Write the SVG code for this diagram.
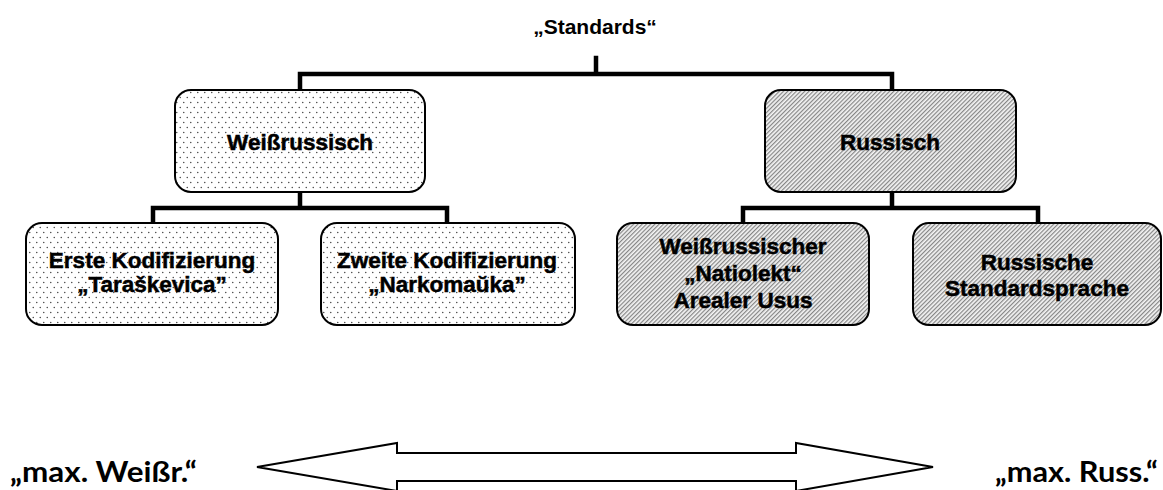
<svg xmlns="http://www.w3.org/2000/svg" width="1163" height="490" viewBox="0 0 1163 490">
<style>
.box{stroke:#000;stroke-width:2}
.dot{fill:url(#dots)}
.hat{fill:url(#hatch)}
.t{font-family:Arial,"Liberation Sans",sans-serif;font-weight:bold;font-size:22.5px;text-anchor:middle;fill:#000;stroke:#000;stroke-width:0.5}
.top{font-family:Arial,"Liberation Sans",sans-serif;font-weight:bold;font-size:21px;text-anchor:middle;fill:#000}
.big{font-family:Lato,"Open Sans",sans-serif;font-weight:bold;font-size:29px;fill:#000}
.con{fill:none;stroke:#000;stroke-width:4.5;stroke-linecap:square}
.arr{fill:#fff;stroke:#000;stroke-width:2;stroke-linejoin:miter}
</style>
<defs>
<pattern id="dots" width="7" height="10" patternUnits="userSpaceOnUse">
<rect width="7" height="10" fill="#fff"/>
<circle cx="1.75" cy="2.5" r="0.75" fill="#444"/>
<circle cx="5.25" cy="7.5" r="0.75" fill="#444"/>
</pattern>
<pattern id="hatch" width="3" height="3" patternUnits="userSpaceOnUse" patternTransform="rotate(45)">
<rect width="3" height="3" fill="#f4f4f4"/>
<rect width="1.2" height="3" fill="#858585"/>
</pattern>
</defs>
<rect width="1163" height="490" fill="#fff"/>
<g id="connectors">
<path class="con" d="M596 58V74M300 90V74H892V90"/>
<path class="con" d="M300 192V208M153 223V208H447V223"/>
<path class="con" d="M892 192V208M743 223V208H1038V223"/>
</g>
<g id="title"><text class="top" x="595" y="34">„Standards“</text></g>
<g id="n-weiss">
<rect class="box dot" x="175" y="90" width="250" height="102" rx="16"/>
<text class="t" x="300" y="150">Weißrussisch</text>
</g>
<g id="n-russ">
<rect class="box hat" x="765" y="90" width="251" height="102" rx="16"/>
<text class="t" x="890" y="150">Russisch</text>
</g>
<g id="n-erste">
<rect class="box dot" x="26" y="223" width="252" height="102" rx="16"/>
<text class="t" x="152" y="268">Erste Kodifizierung</text>
<text class="t" x="152" y="292">„Taraškevica”</text>
</g>
<g id="n-zweite">
<rect class="box dot" x="321" y="223" width="254" height="102" rx="16"/>
<text class="t" x="447" y="268">Zweite Kodifizierung</text>
<text class="t" x="447" y="292">„Narkomaŭka”</text>
</g>
<g id="n-natiolekt">
<rect class="box hat" x="617" y="223" width="252" height="102" rx="16"/>
<text class="t" x="743" y="254">Weißrussischer</text>
<text class="t" x="743" y="281">„Natiolekt“</text>
<text class="t" x="743" y="308">Arealer Usus</text>
</g>
<g id="n-standard">
<rect class="box hat" x="913" y="223" width="248" height="102" rx="16"/>
<text class="t" x="1037" y="270">Russische</text>
<text class="t" x="1037" y="296">Standardsprache</text>
</g>
<g id="scale">
<path class="arr" d="M257 467L397 443V453H796V443L933 467L796 491V481H397V491Z"/>
<text class="big" x="10" y="482" textLength="187" lengthAdjust="spacingAndGlyphs">„max. Weißr.“</text>
<text class="big" x="995" y="482" textLength="163" lengthAdjust="spacingAndGlyphs">„max. Russ.“</text>
</g>
</svg>
